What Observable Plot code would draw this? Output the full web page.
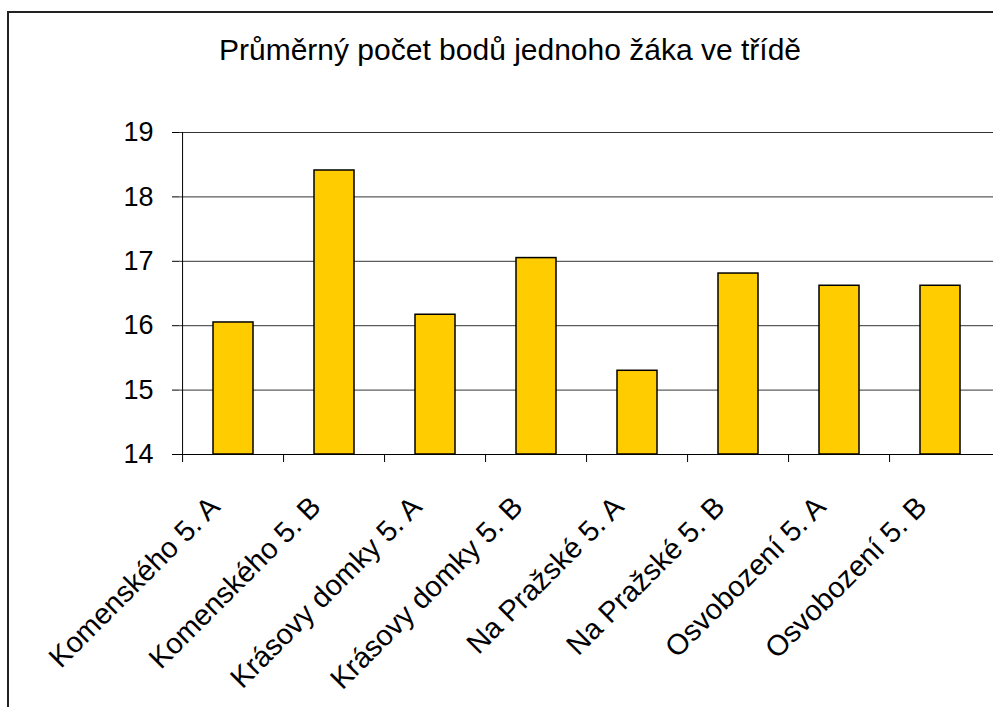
<!DOCTYPE html>
<html>
<head>
<meta charset="utf-8">
<script src="https://cdn.jsdelivr.net/npm/d3@7"></script>
<script src="https://cdn.jsdelivr.net/npm/@observablehq/plot@0.6"></script>
<style>
  html, body { margin: 0; padding: 0; background: #fff; }
  #wrap { position: relative; width: 993px; height: 707px; overflow: hidden; font-family: "Liberation Sans", Arial, sans-serif; }
  #frame { position: absolute; left: 7px; top: 11px; width: 1000px; height: 720px; border-left: 2px solid #222; border-top: 2px solid #222; }
  #title { position: absolute; left: 0; top: 33px; width: 1020px; text-align: center; font-size: 30px; line-height: 34px; color: #000; }
  #chart { position: absolute; left: 0; top: 0; }
</style>
</head>
<body>
<div id="wrap">
  <div id="frame"></div>
  <div id="title"></div>
  <div id="chart"></div>
</div>
<script>
const title = "Průměrný počet bodů jednoho žáka ve třídě";
const categories = [
  "Komenského 5. A",
  "Komenského 5. B",
  "Krásovy domky 5. A",
  "Krásovy domky 5. B",
  "Na Pražské 5. A",
  "Na Pražské 5. B",
  "Osvobození 5. A",
  "Osvobození 5. B"
];
const values = [16.05, 18.41, 16.17, 17.05, 15.30, 16.81, 16.62, 16.62];
const yTicks = [14, 15, 16, 17, 18, 19];

document.getElementById("title").textContent = title;

const data = categories.map((c, i) => ({category: c, value: values[i]}));
const yMin = 14;

const W = 993, H = 707;
const mL = 179, mR = -1, mT = 132, mB = H - 454;
const step = (W - mL - mR) / categories.length;

const plot = Plot.plot({
  width: W,
  height: H,
  marginLeft: mL,
  marginRight: mR,
  marginTop: mT,
  marginBottom: mB,
  style: {fontFamily: "'Liberation Sans', Arial, sans-serif", background: "transparent", overflow: "visible"},
  x: {domain: categories, paddingInner: 0.6, paddingOuter: 0.3, label: null, axis: null},
  y: {domain: [14, 19], label: null, axis: null},
  marks: [
    Plot.gridY(yTicks.filter(t => t > yMin), {stroke: "#000", strokeOpacity: 0.8, strokeWidth: 1}),
    Plot.barY(data, {x: "category", y1: yMin, y2: "value", fill: "#FFCC00", stroke: "#000", strokeWidth: 1.5}),
    Plot.ruleX([categories[0]], {x: d => d, dx: -step / 2, y1: 14, y2: 19, stroke: "#000", strokeWidth: 1}),
    Plot.ruleY([yMin], {stroke: "#000", strokeWidth: 1}),
    Plot.axisY({ticks: yTicks, tickSize: 7, tickPadding: 19, fontSize: 27, tickFormat: d => String(d), label: null, stroke: "#000"}),
    Plot.ruleX(categories, {x: d => d, dx: -step / 2, y1: yMin, y2: yMin, insetBottom: -8, stroke: "#000", strokeWidth: 1}),
    Plot.text(categories, {x: d => d, y: yMin, text: d => d, rotate: -45, textAnchor: "end", lineAnchor: "bottom", dx: -12, dy: 54, fontSize: 29, fill: "#000"})
  ]
});
document.getElementById("chart").appendChild(plot);
</script>
</body>
</html>
